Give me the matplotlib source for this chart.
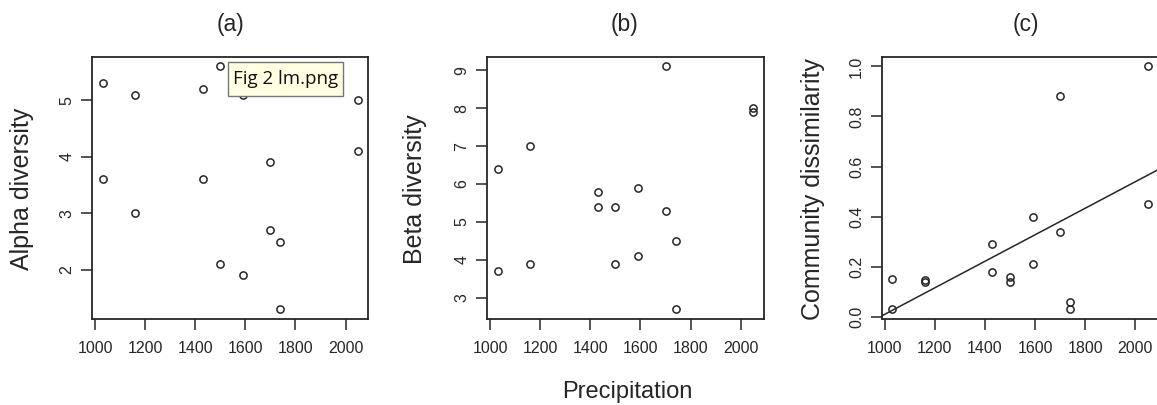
import numpy as np
import matplotlib
matplotlib.use("Agg")
import matplotlib.pyplot as plt
from matplotlib.patches import FancyBboxPatch

# ---------------- data ----------------
precip_a = [1030, 1030, 1160, 1160, 1430, 1430, 1500, 1500,
            1590, 1590, 1700, 1700, 1740, 1740, 2050, 2050]
alpha = [5.3, 3.6, 5.1, 3.0, 5.2, 3.6, 5.6, 2.1,
         5.1, 1.9, 3.9, 2.7, 2.5, 1.3, 5.0, 4.1]

precip_b = [1030, 1030, 1160, 1160, 1430, 1430, 1500, 1500,
            1590, 1590, 1700, 1700, 1740, 1740, 2050, 2050]
beta = [6.4, 3.7, 7.0, 3.9, 5.8, 5.4, 5.4, 3.9,
        5.9, 4.1, 9.1, 5.3, 4.5, 2.7, 8.0, 7.9]

precip_c = [1030, 1030, 1160, 1160, 1430, 1430, 1500, 1500,
            1590, 1590, 1700, 1700, 1740, 1740, 2050, 2050]
dissim = [0.15, 0.03, 0.14, 0.145, 0.29, 0.18, 0.16, 0.14,
          0.40, 0.21, 0.88, 0.34, 0.06, 0.03, 1.00, 0.45]

x_ticks = [1000, 1200, 1400, 1600, 1800, 2000]
a_ticks = [2, 3, 4, 5]
b_ticks = [3, 4, 5, 6, 7, 8, 9]
c_ticks = [0.0, 0.2, 0.4, 0.6, 0.8, 1.0]
c_ticklabels = ["0.0", "0.2", "0.4", "0.6", "0.8", "1.0"]

titles = ["(a)", "(b)", "(c)"]
ylabels = ["Alpha diversity", "Beta diversity", "Community dissimilarity"]
xlabel = "Precipitation"
tooltip = "Fig 2 lm.png"

# ---------------- style ----------------
W, H = 1157, 405
plt.rcParams['font.family'] = ['Liberation Sans', 'DejaVu Sans']
INK = '#262626'

fig = plt.figure(figsize=(W / 100, H / 100), dpi=100)


def px_axes(left, right, top, bottom):
    return fig.add_axes([left / W, 1 - bottom / H, (right - left) / W, (bottom - top) / H])


def rlim(v):
    lo, hi = min(v), max(v)
    d = (hi - lo) * 0.04
    return lo - d, hi + d


boxes = [(92.3, 368.3), (487.3, 763.5), (882, 1158)]
top, bottom = 56.7, 319
xs = [precip_a, precip_b, precip_c]
ys = [alpha, beta, dissim]
yt = [a_ticks, b_ticks, c_ticks]
ylab_x = [21.7, 415, 813]
title_x = [230, 624, 1025.7]

axes = []
for i in range(3):
    ax = px_axes(boxes[i][0], boxes[i][1], top, bottom)
    ax.plot(xs[i], ys[i], linestyle='none', marker='o', markersize=5.2,
            markerfacecolor='none', markeredgecolor=INK, markeredgewidth=1.1,
            clip_on=False, zorder=3)
    ax.set_xlim(*rlim(xs[i]))
    ax.set_ylim(*rlim(ys[i]))
    ax.set_xticks(x_ticks)
    ax.set_xticklabels([str(t) for t in x_ticks])
    ax.set_yticks(yt[i])
    if i == 2:
        ax.set_yticklabels(c_ticklabels)
    else:
        ax.set_yticklabels([str(t) for t in yt[i]])
    for lab in ax.get_yticklabels():
        lab.set_rotation(90)
        lab.set_va('center')
    ax.tick_params(direction='out', length=8, width=1.1, color=INK,
                   labelsize=11.5, labelcolor=INK)
    ax.tick_params(axis='x', pad=8)
    ax.tick_params(axis='y', pad=5)
    for s in ax.spines.values():
        s.set_linewidth(1.3)
        s.set_color(INK)
    fig.text(ylab_x[i] / W, 1 - 189 / H, ylabels[i], rotation=90,
             ha='center', va='center', fontsize=18, color=INK)
    fig.text(title_x[i] / W, 1 - 24 / H, titles[i], ha='center', va='center',
             fontsize=16.5, color=INK)
    axes.append(ax)

# regression line for panel (c)
slope, intercept = np.polyfit(precip_c, dissim, 1)
axes[2].axline((1000, intercept + slope * 1000), slope=slope, color=INK, linewidth=1.1)

fig.text(627.7 / W, 1 - 391.7 / H, xlabel, ha='center', va='center',
         fontsize=17, color=INK)

# tooltip overlay (screenshot artifact)
tl, tr, tt, tb = 228, 343, 62, 95.5
rect = FancyBboxPatch((tl / W, 1 - tb / H), (tr - tl) / W, (tb - tt) / H,
                      boxstyle='square,pad=0', transform=fig.transFigure,
                      facecolor='#FFFFE1', edgecolor='#767676', linewidth=1.0,
                      zorder=10)
fig.add_artist(rect)
fig.text((tl + 5) / W, 1 - (tt + tb) / 2 / H, tooltip, ha='left', va='center',
         fontsize=13.5, color='#111111', family=['Open Sans', 'DejaVu Sans'], zorder=11)

fig.savefig('out.png', dpi=100)
